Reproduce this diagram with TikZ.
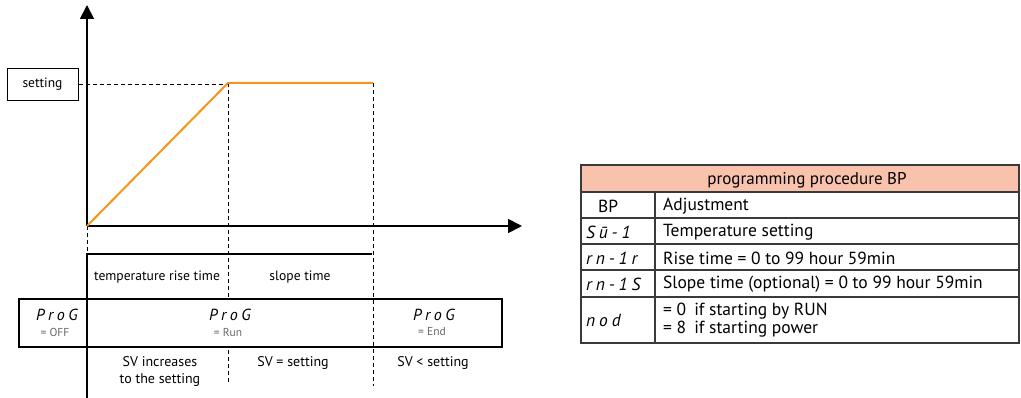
\documentclass[tikz,border=0pt]{standalone}
\usepackage{fontspec}
\setmainfont{PT Sans}
\newfontfamily\segfont[LetterSpace=22]{PT Sans}
\usetikzlibrary{arrows.meta}
\definecolor{rampc}{HTML}{F7941D}
\definecolor{hdr}{HTML}{F9C2AC}
\definecolor{tline}{HTML}{3A3A3A}
\begin{document}
\begin{tikzpicture}[x=1pt,y=-1pt,
  axis/.style={line width=1.8pt,-{Triangle[length=14pt,width=14pt]}},
  dsh/.style={line width=0.8pt,dash pattern=on 4pt off 3pt},
  rampl/.style={line width=2pt,rampc},
  frame/.style={line width=1.7pt},
  setbox/.style={draw,line width=1pt,minimum width=71pt,minimum height=32pt,inner sep=0pt,font=\fontsize{13.5}{15}\selectfont},
  lbl/.style={inner sep=0pt,font=\fontsize{13.6}{15}\selectfont},
  blbl/.style={inner sep=0pt,font=\fontsize{14}{16.5}\selectfont,align=center},
  seg/.style={inner sep=0pt,font=\segfont\itshape\fontsize{16}{17}\selectfont},
  eqs/.style={inner sep=0pt,text=black!60,font=\fontsize{11.5}{12}\selectfont},
  tbl/.style={line width=1.2pt,tline},
  ttxt/.style={inner sep=0pt,anchor=west,font=\fontsize{17.5}{19}\selectfont},
  tseg/.style={inner sep=0pt,anchor=west,font=\segfont\itshape\fontsize{17.5}{18}\selectfont}]
\useasboundingbox (0,0) rectangle (1021,398);
% axes and curve
\coordinate (O) at (87,226);
\coordinate (ytop) at (87,5);
\coordinate (xend) at (522,226);
\coordinate (P1) at (228,83);
\coordinate (P2) at (373,83);
\node[setbox] (set) at (42.5,84.5) {setting};
\draw[dsh] (set.east) -- (set.east -| P1);
\draw[dsh] (O) -- (87,254);
\draw[dsh] (P1) -- (228,297);
\draw[dsh] (228,350) -- (228,384);
\draw[dsh] (P2) -- (373,386);
\draw[axis] (O) -- (ytop);
\draw[axis] (O) -- (xend);
\draw[rampl] (O) -- (P1) -- (P2);
% frames
\draw[frame] (372,254) -- (87,254) -- (87,398);
\draw[frame] (19,299) rectangle (502,347);
% labels
\node[lbl] (rise) at (157,277) {temperature rise time};
\node[lbl] (slope) at (300,277) {slope time};
\node[seg] (pg1) at (57,315) {ProG};
\node[eqs] (off) at (55,332) {= OFF};
\node[seg] (pg2) at (230,315) {ProG};
\node[eqs] (run) at (228,332) {= Run};
\node[seg] (pg3) at (434,315) {ProG};
\node[eqs] (end) at (432,332) {= End};
\node[blbl] (inc) at (160,371.5) {SV increases\\to the setting};
\node[blbl] (eq) at (293,363) {SV = setting};
\node[blbl] (lt) at (433,363) {SV < setting};
% table
\fill[hdr] (581,165) rectangle (1019,192);
\draw[tbl] (581,165) rectangle (1019,343);
\foreach \yy in {192,218,244,270,297} \draw[tbl] (581,\yy) -- (1019,\yy);
\draw[tbl] (655,192) -- (655,343);
\node[inner sep=0pt,font=\fontsize{17}{19}\selectfont] (hd) at (807,180) {programming procedure BP};
\node[ttxt] (bp) at (598,206) {BP};
\node[ttxt] (adj) at (663,206) {Adjustment};
\node[tseg] (s1) at (586,232) {Sū-1};
\node[ttxt] (ts) at (663,232) {Temperature setting};
\node[tseg] (s2) at (586,258) {rn-1r};
\node[ttxt] (rt) at (663,258) {Rise time = 0 to 99 hour 59min};
\node[tseg] (s3) at (586,284) {rn-1S};
\node[ttxt] (st) at (663,284) {Slope time (optional) = 0 to 99 hour 59min};
\node[tseg] (s4) at (586,320) {nod};
\node[ttxt] (m0) at (663,311) {= 0\hspace{8pt}if starting by RUN};
\node[ttxt] (m8) at (663,329) {= 8\hspace{8pt}if starting power};
\end{tikzpicture}
\end{document}
